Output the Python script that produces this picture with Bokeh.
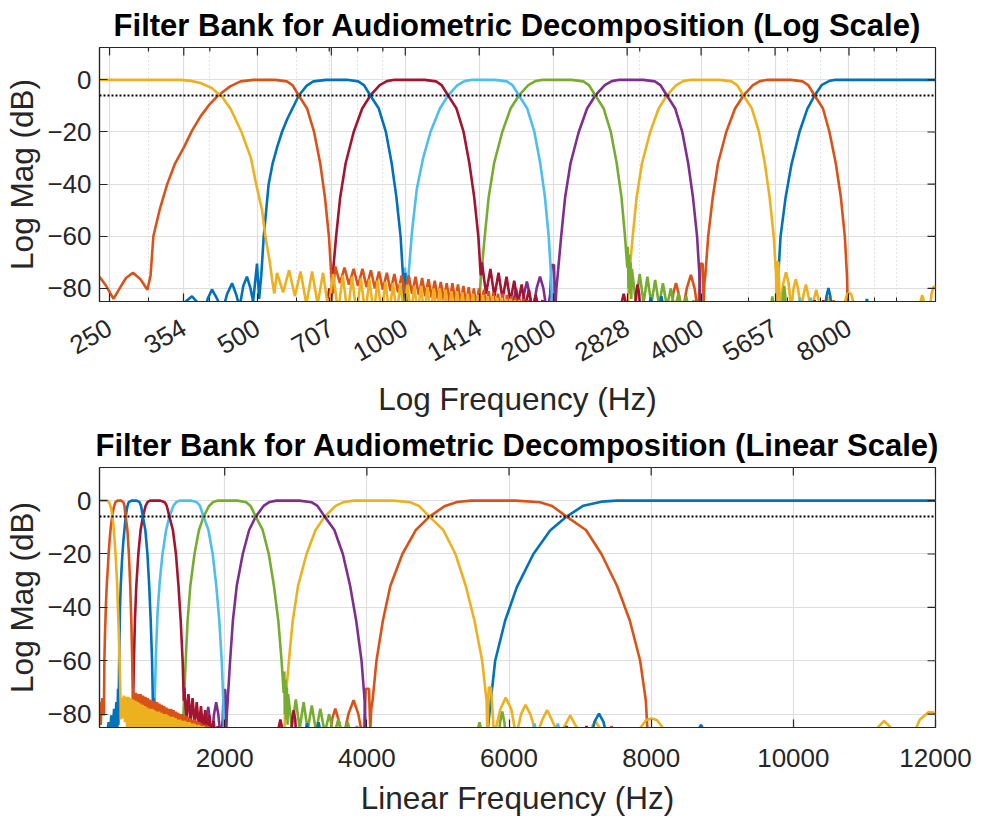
import math
from bokeh.plotting import figure
from bokeh.models import Range1d, FixedTicker, Span
from bokeh.layouts import column
from bokeh.embed import file_html
from bokeh.resources import INLINE

# ---------------- axes / ticks ----------------
log_ticks = [250, 354, 500, 707, 1000, 1414, 2000, 2828, 4000, 5657, 8000]
log_minor_ticks = [300, 400, 600, 700, 800, 900, 3000, 5000, 6000, 7000, 9000, 10000]
lin_ticks = [2000, 4000, 6000, 8000, 10000, 12000]
db_ticks = [-80, -60, -40, -20, 0]
freq_limits = [238.5, 12000]
db_limits = [-85, 12.4]
ref_db = -6

title_log = "Filter Bank for Audiometric Decomposition (Log Scale)"
title_lin = "Filter Bank for Audiometric Decomposition (Linear Scale)"
xlabel_log = "Log Frequency (Hz)"
xlabel_lin = "Linear Frequency (Hz)"
ylabel = "Log Mag (dB)"

# ---------------- filter responses (freq Hz, dB) ----------------
# low-pass (yellow)
lp_main = [(238.5, 0), (300, 0), (348, 0), (366, -0.4), (383, -1.2), (404, -3.2), (417, -5.4), (424, -6.6),
           (441, -11.2), (464, -20), (485, -30), (497, -40), (511, -50), (519, -60), (530, -70), (536, -77), (541, -82)]
lp_ripple = [(548, -74), (564, -81.5), (580, -73), (596, -83), (612, -73.5), (629, -86), (646, -73.5), (663, -86),
             (680, -74), (697, -88), (713, -74.5), (730, -89), (746, -75), (763, -90), (779, -75.5), (796, -90),
             (812, -76), (829, -90), (845, -76.5), (862, -90), (878, -77), (895, -90), (911, -77.5), (928, -90),
             (944, -78), (961, -90), (977, -78), (994, -90), (1010, -78.5), (1027, -90), (1043, -79), (1060, -90),
             (1076, -79), (1093, -90), (1109, -79.5), (1126, -90), (1142, -80), (1159, -90), (1175, -80), (1192, -90),
             (1208, -80.5), (1225, -90), (1241, -81), (1258, -90), (1274, -81), (1291, -90), (1307, -81.5), (1324, -90),
             (1340, -82), (1357, -90), (1373, -82), (1390, -90), (1406, -82.5), (1423, -90), (1439, -82.5), (1456, -90),
             (1472, -83), (1489, -90), (1505, -83), (1522, -90), (1538, -83.5), (1555, -90), (1571, -83.5), (1588, -90),
             (1604, -84), (1621, -90), (1637, -84), (1654, -90), (1670, -84.5), (1687, -90), (1703, -84.5), (1720, -90),
             (1736, -85), (1753, -90), (1769, -85), (1786, -90), (1802, -85.5), (1819, -90)]
lp_far = [(11100, -90), (11190, -85), (11276, -82.5), (11370, -85), (11480, -90), (11650, -90), (11780, -82),
          (11905, -79.2), (12000, -79.5)]

# band 500 Hz (orange)
b500_left = [(238.5, -75.5), (246, -79), (254.7, -84), (263, -79.5), (270, -76), (279, -74), (289, -76.5), (298.5, -80.5)]
b500_main = [(303, -75), (307, -60), (316, -50), (327.6, -40), (340, -32), (354, -26), (368, -19.5), (383, -14),
             (400, -9.3), (417, -5.8), (440, -2.5), (462, -0.6), (491, 0), (543, 0), (574, -0.6), (589, -2),
             (607, -6), (631, -11), (652, -20), (671, -32), (686, -45), (699, -60), (707, -75), (712, -82)]
b500_ripple = [(720, -71.5), (736, -78), (752, -72), (768, -78.5), (785, -72.5), (801, -79), (818, -72.5), (834, -79.5),
               (851, -73), (867, -80), (884, -73.5), (900, -80.5), (917, -74), (933, -81), (950, -74.5), (966, -81.5),
               (983, -75), (999, -82), (1016, -75), (1032, -82), (1049, -75.5), (1065, -82.5), (1082, -76), (1098, -83),
               (1115, -76.5), (1131, -83.5), (1148, -77), (1164, -84), (1181, -77.5), (1197, -84.5), (1214, -78),
               (1230, -85), (1247, -78), (1263, -85), (1280, -78.5), (1296, -85.5), (1313, -79), (1329, -86),
               (1346, -79.5), (1362, -86.5), (1379, -80), (1395, -87), (1412, -80), (1428, -87), (1445, -80.5),
               (1461, -87.5), (1478, -81), (1494, -88), (1511, -81.5), (1527, -88), (1544, -82), (1560, -88.5),
               (1577, -82), (1593, -89), (1610, -82.5), (1626, -89), (1643, -83), (1659, -89.5), (1676, -83.5),
               (1692, -90), (1709, -84), (1725, -90), (1742, -84), (1758, -90), (1775, -84.5), (1791, -90),
               (1808, -85.5), (1824, -90)]
b500_far = [(7400, -90), (7420, -86), (7442, -84.5), (7464, -86), (7485, -90)]

# band 707 Hz (blue)
b707_left = [(340, -90), (352, -86), (368, -83), (380, -86), (388, -90), (396, -84), (404, -80.4), (414, -84),
             (424, -89), (434, -82), (444, -78), (452, -82), (460, -87), (468, -79), (476, -75.5), (484, -80),
             (490, -85), (499, -70.5), (504, -84)]
b707_main = [(509, -75), (515, -60), (521, -50), (527, -40), (537, -32), (548, -26), (561, -20), (575, -15),
             (607, -6), (630, -2.2), (650, -0.6), (690, 0), (760, 0), (802, -0.6), (823.5, -2), (849, -6),
             (883, -11), (913, -20), (938, -32), (959, -45), (978, -60), (989, -75)]
b707_right = [(994, -88), (1000, -74), (1006, -90)]
b707_far = [(3120, -90), (3140, -86), (3158, -83.5), (3178, -86), (3200, -90), (3280, -90), (3300, -86), (3321, -83),
            (3342, -86), (3362, -90), (7150, -90), (7200, -83), (7266, -79.8), (7330, -83), (7390, -90),
            (8630, -90), (8660, -86), (8700, -84), (8740, -86), (8780, -90)]

# band 1000 Hz (dark red)
b1000_main = [(690, -90), (700, -80), (705, -88), (711.5, -75), (723, -60), (737, -45), (756, -32), (785, -20),
              (817, -11), (849, -6), (887, -2), (917, -0.5), (951, 0), (1094, 0), (1155, -0.6), (1185, -2),
              (1222, -6), (1271, -11), (1314, -20), (1350, -32), (1381, -45), (1408, -60), (1424, -75)]
b1000_ripple = [(1432, -70), (1460, -82), (1490, -72.5), (1518, -83), (1548, -74), (1577, -84), (1607, -75.5),
                (1636, -85), (1666, -77), (1695, -86), (1725, -78.5), (1754, -87), (1784, -80.5), (1813, -88),
                (1843, -82.5), (1872, -89), (1902, -84.5), (1931, -90)]
b1000_far = [(2740, -90), (2760, -85), (2783, -82), (2806, -85), (2830, -90), (2930, -90), (2948, -82), (2970, -78.5),
             (2992, -82), (3010, -90), (6770, -90), (6790, -86.5), (6811, -84.5), (6832, -86.5), (6850, -90),
             (7050, -90), (7070, -86.5), (7089, -84.5), (7110, -86.5), (7130, -90)]

# band 1414 Hz (cyan)
b1414_main = [(985, -90), (998, -72), (1008, -86), (1016, -74), (1032, -58), (1055, -42), (1087, -30), (1125, -20),
              (1176, -11), (1222, -6), (1277, -2), (1320, -0.5), (1369, 0), (1524, 0), (1609, -0.6), (1652, -2),
              (1703, -6), (1771, -11), (1831, -20), (1882, -32), (1924, -45), (1958, -60), (1980, -75), (1992, -90)]
b1414_far = [(6310, -90), (6335, -86), (6357, -83.5), (6380, -86), (6400, -90), (6640, -90), (6665, -86),
             (6686, -83.5), (6710, -86), (6730, -90)]

# band 2000 Hz (green)
b2000_main = [(1405, -90), (1427, -75), (1451, -60), (1478, -45), (1516, -32), (1575, -20), (1638, -11), (1703, -6),
              (1780, -2), (1839, -0.5), (1907, 0), (2181, 0), (2303, -0.6), (2364, -2), (2437, -6), (2534, -11),
              (2620, -20), (2693, -32), (2754, -45), (2800, -60), (2830, -72)]
b2000_ripple = [(2838, -64), (2846, -80), (2855, -67), (2864, -82), (2875, -70), (2884, -84), (2892, -72.5),
                (2945, -85), (3000, -74.5), (3055, -85.5), (3110, -75.5), (3168, -86), (3225, -76.7), (3285, -86.5),
                (3345, -78), (3408, -87), (3470, -80), (3535, -88), (3600, -81.8), (3665, -89), (3730, -83),
                (3795, -90), (3860, -84.5), (3925, -90)]
b2000_far = [(5540, -90), (5560, -86), (5585, -83), (5610, -86), (5630, -90), (5850, -90), (5875, -83), (5905, -79),
             (5935, -83), (5960, -90)]

# band 2828 Hz (purple)
b2828_left = [(1640, -90), (1660, -85), (1680, -80), (1700, -85), (1720, -90), (1745, -82), (1768, -77.3),
              (1790, -82), (1815, -90), (1850, -80), (1880, -75.5), (1910, -80), (1945, -90), (1972, -82),
              (1985, -71), (2008, -71), (2018, -90), (2030, -80)]
b2828_main = [(2042, -75), (2076, -60), (2115, -45), (2169, -32), (2254, -20), (2344, -11), (2437, -6), (2547, -2),
              (2632, -0.5), (2729, 0), (3049, 0), (3220, -0.6), (3305, -2), (3407, -6), (3543, -11), (3662, -20),
              (3765, -32), (3850, -45), (3925, -60), (3969, -75), (3985, -90)]

# band 4000 Hz (yellow)
b4000_main = [(2835, -90), (2848, -80), (2855, -75), (2903, -60), (2957, -45), (3032, -32), (3151, -20), (3278, -11),
              (3407, -6), (3560, -2), (3680, -0.5), (3816, 0), (4368, 0), (4612, -0.6), (4734, -2), (4880, -6),
              (5075, -11), (5246, -20), (5392, -32), (5514, -45), (5622, -60), (5685, -75), (5695, -88)]
b4000_ripple = [(5715, -70), (5745, -70), (5790, -88), (5880, -78), (5954, -73.8), (6030, -78), (6100, -88),
                (6170, -80), (6232, -76.5), (6300, -80), (6390, -88), (6470, -82), (6536, -78.5), (6600, -82),
                (6700, -88), (6790, -84), (6862, -80.5), (6930, -84), (7040, -88), (7140, -86), (7216, -82.5),
                (7290, -86), (7400, -90), (7770, -90), (7850, -85), (7930, -82.2), (8007, -81.6), (8080, -82.2),
                (8160, -85), (8250, -90)]

# band 5657 Hz (orange)
b5657_left = [(3480, -90), (3510, -82), (3556, -77.9), (3600, -82), (3660, -90), (3740, -80), (3813, -74.8),
              (3880, -80), (3950, -90), (3985, -70.5), (4030, -70.5), (4048, -86), (4062, -78)]
b5657_main = [(4080, -75), (4135, -60), (4225, -45), (4330, -32), (4500, -20), (4690, -11), (4880, -6), (5100, -2),
              (5270, -0.5), (5466, 0), (6095, 0), (6435, -0.6), (6606, -2), (6810, -6), (7082, -11), (7300, -20),
              (7520, -32), (7700, -45), (7845, -60), (7925, -75), (7955, -90)]

# high-pass (blue)
hp_main = [(5650, -90), (5700, -86), (5735, -77), (5805, -60), (5945, -45), (6110, -32.4), (6343, -20),
           (6578, -11.2), (6810, -6), (7046, -1.9), (7300, -0.4), (7515, 0), (12000, 0)]

BLUE, ORANGE, YELLOW, PURPLE = "#0072BD", "#D95319", "#EDB120", "#7E2F8E"
GREEN, CYAN, RED = "#77AC30", "#4DBEEE", "#A2142F"

# plotting order (first drawn = bottom)
curves = [
    (hp_main, BLUE),
    (b5657_left + b5657_main, ORANGE),
    (b4000_main + b4000_ripple, YELLOW),
    (b2828_left + b2828_main, PURPLE),
    (b2000_main + b2000_ripple + b2000_far, GREEN),
    (b1414_main + b1414_far, CYAN),
    (b1000_main + b1000_ripple + b1000_far, RED),
    (b707_left + b707_main + b707_right + b707_far, BLUE),
    (b500_left + b500_main + b500_ripple + b500_far, ORANGE),
    (lp_main + lp_ripple + lp_far, YELLOW),
]

FONT = "Liberation Sans"
AX = "#262626"


def style_axis(ax, minor=False):
    ax.axis_line_color = AX
    ax.axis_line_width = 1.2
    ax.major_tick_line_color = AX
    ax.major_tick_line_width = 1.2
    ax.major_tick_in = 8
    ax.major_tick_out = 0
    if minor:
        ax.minor_tick_line_color = AX
        ax.minor_tick_in = 4
        ax.minor_tick_out = 0
    else:
        ax.minor_tick_line_color = None
    ax.major_label_text_font = FONT
    ax.major_label_text_color = AX
    ax.major_label_text_font_size = "26px"
    ax.axis_label_text_font = FONT
    ax.axis_label_text_font_size = "31.5px"
    ax.axis_label_text_font_style = "normal"
    ax.axis_label_text_color = AX


def make_fig(is_log):
    h = 420 if is_log else 399
    p = figure(width=982, height=h, x_axis_type="log" if is_log else "linear",
               x_range=Range1d(freq_limits[0], freq_limits[1]), y_range=Range1d(db_limits[0], db_limits[1]),
               output_backend="svg", toolbar_location=None,
               min_border_left=99, min_border_right=47, min_border_top=47,
               min_border_bottom=(h - 307))
    p.title.text = title_log if is_log else title_lin
    p.title.align = "center"
    p.title.text_font = FONT
    p.title.text_font_size = "31px"
    p.title.text_font_style = "bold"
    p.title.text_color = "#000000"
    p.title.standoff = 9
    p.background_fill_color = "white"
    p.border_fill_color = "white"
    p.outline_line_color = AX
    p.outline_line_width = 1.2

    xticks = log_ticks if is_log else lin_ticks
    if is_log:
        xt = FixedTicker(ticks=xticks, minor_ticks=log_minor_ticks)
    else:
        xt = FixedTicker(ticks=xticks)
    yt = FixedTicker(ticks=db_ticks)

    xa = p.xaxis[0]
    xa.ticker = xt
    style_axis(xa, is_log)
    xa.axis_label = xlabel_log if is_log else xlabel_lin
    if is_log:
        xa.major_label_orientation = math.pi / 6
        xa.major_label_standoff = 24
        xa.axis_label_standoff = 8
    else:
        xa.major_label_standoff = 21
        xa.axis_label_standoff = 10

    ya = p.yaxis[0]
    ya.ticker = yt
    style_axis(ya)
    ya.axis_label = ylabel
    ya.major_label_standoff = 8
    ya.axis_label_standoff = 4

    p.xgrid.ticker = xt
    p.ygrid.ticker = yt
    p.xgrid.grid_line_color = "#dedede"
    p.ygrid.grid_line_color = "#dedede"
    p.xgrid.grid_line_width = 1.2
    p.ygrid.grid_line_width = 1.2
    if is_log:
        p.xgrid.minor_grid_line_color = "#c8c8c8"
        p.xgrid.minor_grid_line_dash = "1 3"
        p.xgrid.minor_grid_line_width = 1

    for pts, col in curves:
        fs = [a for a, b in pts]
        ds = [b for a, b in pts]
        p.line(fs, ds, line_color=col, line_width=2.6)

    p.add_layout(Span(location=ref_db, dimension="width", line_color="#000000",
                      line_dash="2 2", line_width=2))

    # inward tick marks on the top and right edges of the box (half of each dash is clipped by the frame)
    p.scatter(x=xticks, y=[db_limits[1]] * len(xticks), marker="dash", angle=math.pi / 2,
              size=16, line_color=AX, line_width=1.2)
    if is_log:
        p.scatter(x=log_minor_ticks, y=[db_limits[1]] * len(log_minor_ticks), marker="dash",
                  angle=math.pi / 2, size=8, line_color=AX, line_width=1.2)
    p.scatter(x=[freq_limits[1]] * len(db_ticks), y=db_ticks, marker="dash", size=16,
              line_color=AX, line_width=1.2)
    return p


p1 = make_fig(True)
p2 = make_fig(False)
layout = column(p1, p2, spacing=0)
open("out.html", "w").write(file_html(layout, INLINE))
